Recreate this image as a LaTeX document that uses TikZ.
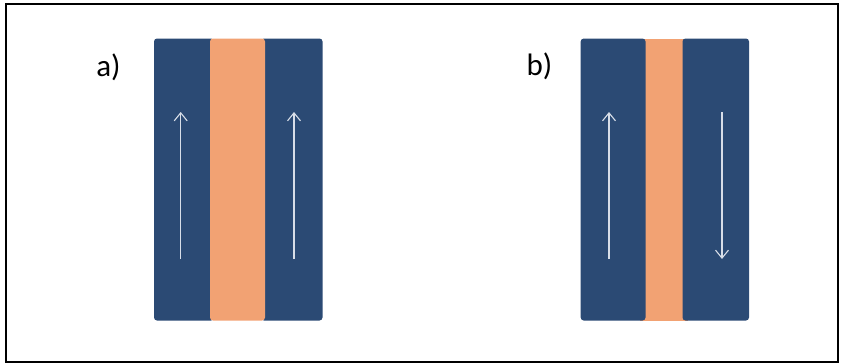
\documentclass[tikz,border=0pt]{standalone}
\usepackage{fontspec}
\setmainfont{Carlito}
\usetikzlibrary{arrows.meta}
\definecolor{navy}{HTML}{2B4A74}
\definecolor{peach}{HTML}{F2A273}
\definecolor{arrowc}{HTML}{D8DEE8}
\begin{document}
\begin{tikzpicture}[x=1pt,y=-1pt,
  blue/.style={fill=navy,draw=none,rounded corners=3pt},
  core/.style={fill=peach,draw=none,rounded corners=3pt},
  flow/.style={draw=arrowc,line width=1.1pt,-{Straight Barb[length=8pt,width=13pt,line width=1.1pt]}},
  lab/.style={font=\fontsize{31}{36}\selectfont,anchor=center}]
\useasboundingbox (0,0) rectangle (841,364);
\draw[line width=1.3pt] (6,4) rectangle (838,362);
% panel a
\path[blue] (154,38.5) rectangle (214,320.5);
\path[blue] (261,38.5) rectangle (322.5,320.5);
\path[core] (210,38.5) rectangle (265,320.5);
\coordinate (a1s) at (180.7,259); \coordinate (a1e) at (180.7,112);
\coordinate (a2s) at (294,259); \coordinate (a2e) at (294,112);
\draw[flow] (a1s) -- (a1e);
\draw[flow] (a2s) -- (a2e);
\node[lab] (la) at (108.5,67) {a)};
% panel b
\path[fill=peach] (640,38.5) rectangle (688,320.5);
\path[blue] (580.7,38.5) rectangle (645.5,320.5);
\path[blue] (682.5,38.5) rectangle (749,320.5);
\coordinate (b1s) at (609,259); \coordinate (b1e) at (609,112);
\coordinate (b2s) at (722,112); \coordinate (b2e) at (722,259);
\draw[flow] (b1s) -- (b1e);
\draw[flow] (b2s) -- (b2e);
\node[lab] (lb) at (539.5,66) {b)};
\end{tikzpicture}
\end{document}
